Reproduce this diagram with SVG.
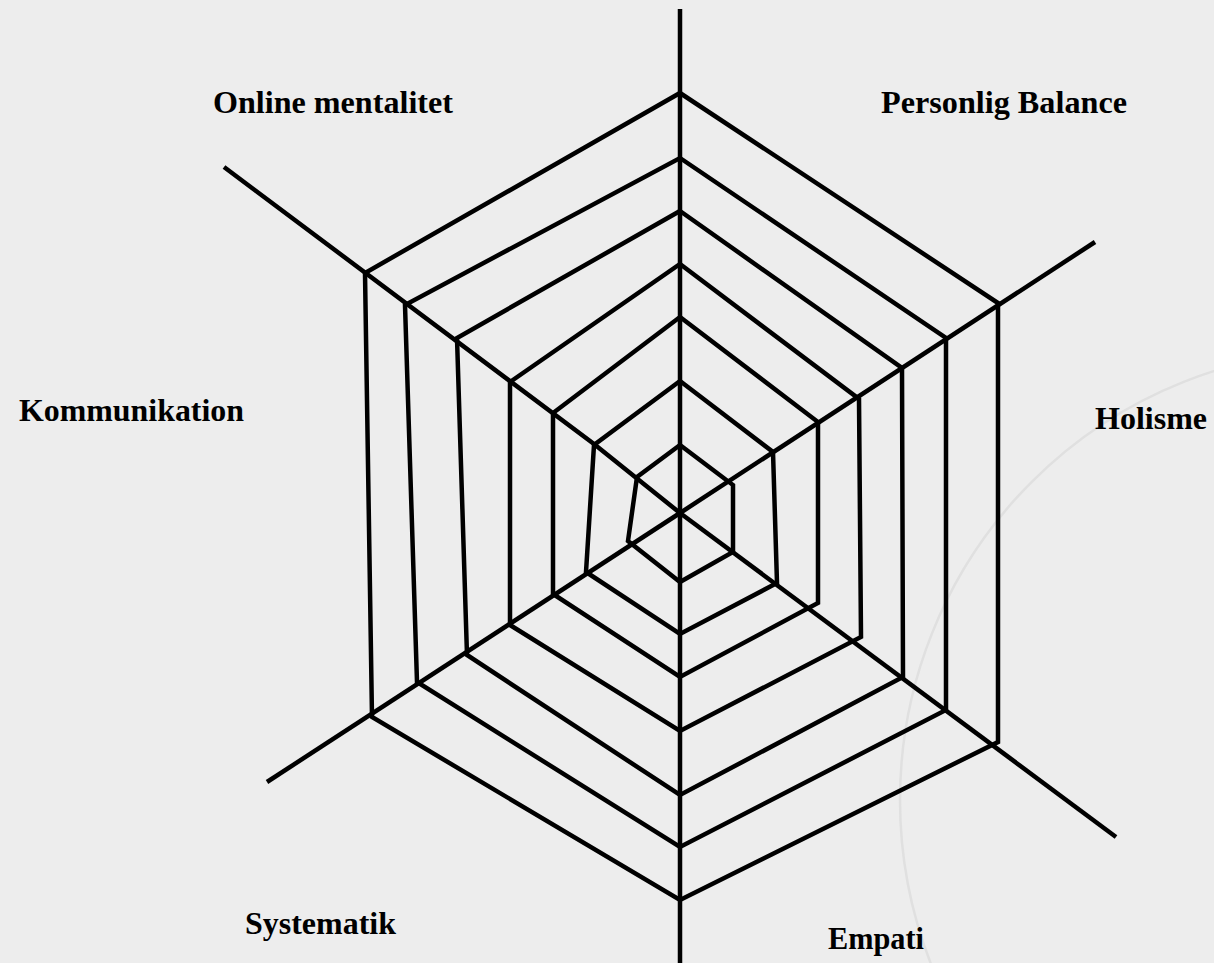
<svg xmlns="http://www.w3.org/2000/svg" width="1214" height="963" viewBox="0 0 1214 963">
<style>
.bg{fill:#ededed}
.wm{fill:none;stroke:#e0e0e0;stroke-width:2.5}
.ax{fill:none;stroke:#000;stroke-width:4.5;stroke-linecap:butt}
.ring{fill:none;stroke:#000;stroke-width:4.5;stroke-linejoin:miter}
.lbl{font-family:"Liberation Serif","Times New Roman",serif;font-weight:bold;font-size:32px;fill:#000}
</style>
<rect class="bg" x="0" y="0" width="1214" height="963"/>
<g id="watermark">
<circle class="wm" cx="1350" cy="800" r="450"/>
</g>
<g id="connectors">
<path class="ax" d="M680,9 V963"/>
<path class="ax" d="M224,167 L594,444 L680,513"/>
<path class="ax" d="M680,513 L1116,837"/>
<path class="ax" d="M1095,242 L680,513"/>
<path class="ax" d="M680,513 L267,782"/>
</g>
<g id="rings">
<polygon id="ring1" class="ring" points="680,445 733,485 733,552 680,582 628,541 637,477"/>
<polygon id="ring2" class="ring" points="680,381 773,452 777,583 680,634 586,572 594,445"/>
<polygon id="ring3" class="ring" points="680,317 818,422 818,603 680,677 553,594 553,413"/>
<polygon id="ring4" class="ring" points="680,264 859,399 861,637 680,731 510,625 510,382"/>
<polygon id="ring5" class="ring" points="680,211 902,368 903,677 680,795 467,655 457,338"/>
<polygon id="ring6" class="ring" points="680,158 946,338 946,710 680,847 417,682 405,305"/>
<polygon id="ring7" class="ring" points="680,93 998,303 998,742 680,900 372,717 365,273"/>
</g>
<g id="node-online"><text class="lbl" x="213" y="113" textLength="240" lengthAdjust="spacingAndGlyphs">Online mentalitet</text></g>
<g id="node-personlig"><text class="lbl" x="881" y="113" textLength="246" lengthAdjust="spacingAndGlyphs">Personlig Balance</text></g>
<g id="node-holisme"><text class="lbl" x="1095" y="429" textLength="112" lengthAdjust="spacingAndGlyphs">Holisme</text></g>
<g id="node-kommunikation"><text class="lbl" x="19" y="421" textLength="225" lengthAdjust="spacingAndGlyphs">Kommunikation</text></g>
<g id="node-systematik"><text class="lbl" x="245" y="934" textLength="151" lengthAdjust="spacingAndGlyphs">Systematik</text></g>
<g id="node-empati"><text class="lbl" x="828" y="949" textLength="96" lengthAdjust="spacingAndGlyphs">Empati</text></g>
</svg>
